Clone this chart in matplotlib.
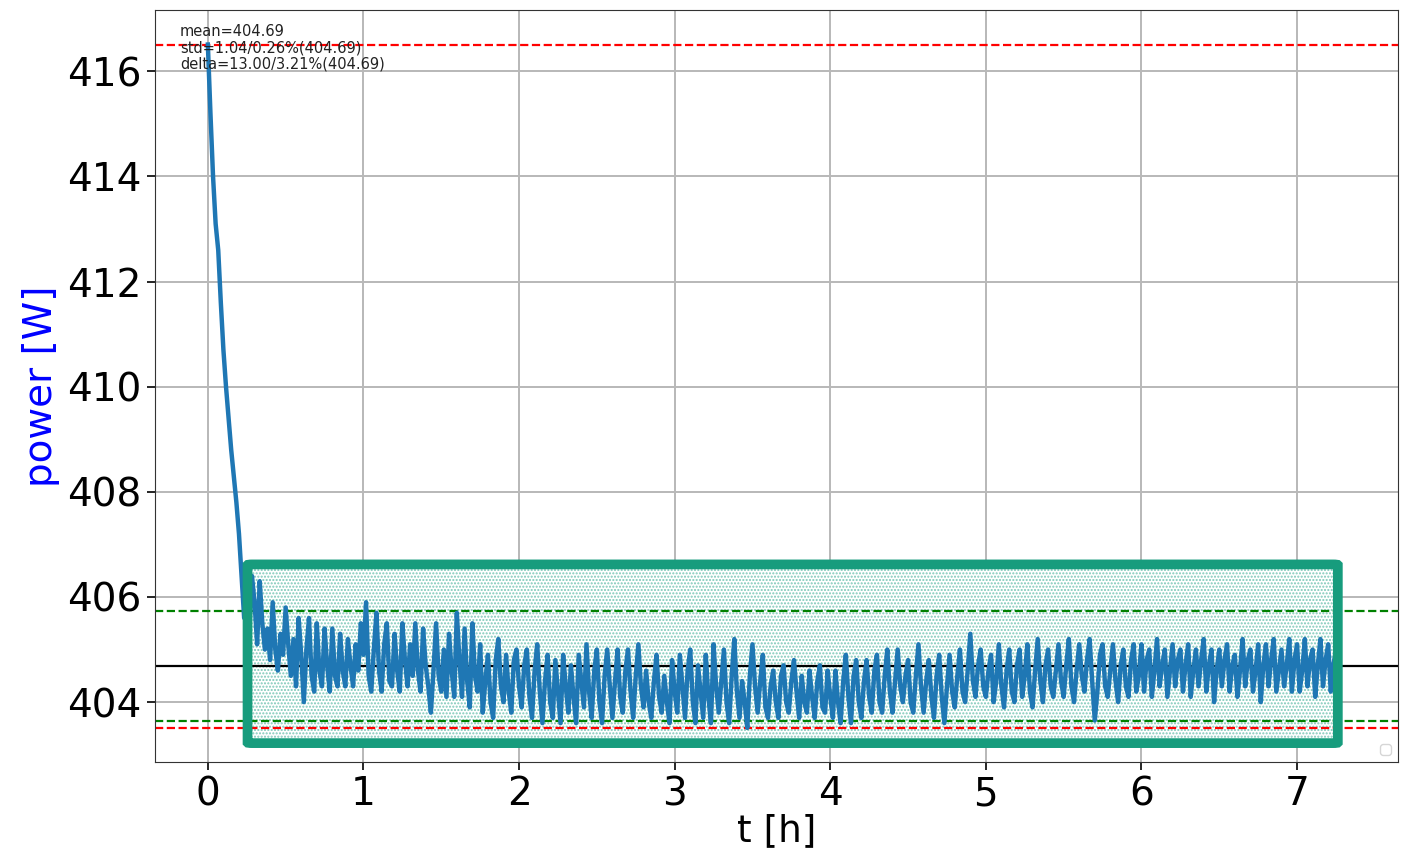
"""Power trace of a warm-up run with the stability statistics overlaid."""

import matplotlib

matplotlib.use("Agg")

import matplotlib.pyplot as plt
from matplotlib.patches import FancyBboxPatch
import numpy as np

# one sample per minute
SAMPLE_STEP_H = 1.0 / 60.0

power_w = [
    # hour 0: warm-up decay, then settling
    416.51, 415.2, 414.0, 413.1, 412.6, 411.6, 410.7, 410.0, 409.4, 408.8,
    408.3, 407.8, 407.2, 406.4, 405.6, 406.1, 405.4, 406.4, 405.9, 405.1,
    406.3, 405.5, 405.0, 405.4, 404.8, 405.9, 405.0, 404.6, 405.3, 404.9,
    405.8, 405.1, 404.5, 405.2, 404.3, 405.6, 404.9, 404.0, 405.0, 405.6,
    404.5, 404.2, 405.5, 404.6, 404.3, 405.4, 404.7, 404.2, 405.4, 404.5,
    404.3, 405.3, 404.6, 404.3, 405.2, 404.7, 404.3, 405.1, 404.6, 405.5,
    # hour 1
    404.9, 405.9, 404.5, 404.2, 405.0, 405.7, 404.6, 404.2, 405.1, 405.5,
    404.4, 404.3, 405.3, 404.6, 404.2, 405.5, 404.8, 404.3, 405.1, 404.5,
    405.5, 404.6, 404.2, 405.4, 404.7, 404.3, 403.8, 404.6, 405.5, 404.5,
    404.2, 405.0, 404.1, 405.3, 404.6, 404.1, 405.7, 404.8, 404.1, 405.4,
    404.4, 403.9, 405.5, 404.5, 404.2, 405.1, 403.8, 404.4, 404.9, 404.0,
    403.7, 404.8, 405.2, 404.3, 404.0, 404.9, 404.2, 403.8, 404.8, 405.0,
    # hour 2
    404.3, 403.9, 404.7, 405.0, 404.1, 403.7, 404.6, 405.1, 404.2, 403.6,
    404.4, 404.9, 404.0, 403.7, 404.8, 404.2, 403.6, 404.9, 404.3, 403.8,
    404.7, 404.1, 403.6, 404.9, 404.4, 403.9, 405.1, 404.2, 403.7, 404.6,
    405.0, 404.0, 403.6, 404.5, 405.0, 404.3, 403.7, 404.4, 405.0, 404.1,
    403.8, 404.6, 405.0, 404.2, 403.7, 404.5, 405.1, 404.3, 403.9, 404.6,
    404.0, 403.7, 404.4, 404.9, 404.1, 403.8, 404.5, 404.0, 403.6, 404.8,
    # hour 3
    404.2, 403.8, 404.9, 404.3, 403.7, 404.6, 405.0, 404.0, 403.6, 404.7,
    404.2, 403.7, 404.9, 404.1, 403.6, 405.1, 404.3, 403.8, 404.4, 405.0,
    404.0, 403.6, 404.5, 405.2, 404.2, 403.7, 404.4, 404.0, 403.51, 404.5,
    405.1, 404.3, 403.8, 404.4, 404.9, 403.9, 403.7, 404.3, 404.6, 404.0,
    403.7, 404.5, 404.7, 404.0, 403.8, 404.4, 404.8, 404.2, 403.7, 404.5,
    404.0, 403.8, 404.6, 404.1, 403.7, 404.4, 404.7, 403.9, 403.8, 404.6,
    # hour 4
    404.1, 403.7, 404.6, 404.0, 403.6, 404.4, 404.9, 404.1, 403.6, 404.5,
    404.8, 404.0, 403.7, 404.4, 404.8, 404.1, 403.8, 404.6, 404.9, 404.0,
    403.8, 404.5, 405.0, 404.2, 403.8, 404.4, 405.0, 404.3, 404.0, 404.5,
    404.8, 404.0, 403.8, 404.5, 405.1, 404.3, 403.8, 404.4, 404.8, 404.1,
    403.7, 404.5, 404.9, 404.1, 403.6, 404.3, 404.9, 404.2, 403.9, 404.5,
    405.0, 404.2, 404.0, 404.6, 405.3, 404.4, 404.1, 404.7, 405.0, 404.3,
    # hour 5
    404.1, 404.6, 404.9, 404.0, 404.4, 405.1, 404.3, 403.9, 404.6, 405.0,
    404.2, 404.0, 404.7, 405.0, 404.1, 404.5, 405.1, 404.2, 403.9, 404.6,
    405.2, 404.4, 404.0, 404.7, 405.0, 404.3, 404.1, 404.6, 405.1, 404.4,
    404.1, 404.7, 405.2, 404.3, 404.0, 404.6, 405.1, 404.5, 404.2, 404.8,
    405.2, 404.4, 403.65, 404.2, 404.9, 405.1, 404.3, 404.1, 404.6, 405.1,
    404.4, 404.0, 404.7, 405.0, 404.3, 404.1, 404.8, 405.1, 404.2, 404.5,
    # hour 6
    405.1, 404.2, 404.8, 405.0, 404.1, 404.6, 405.2, 404.3, 404.7, 405.0,
    404.1, 404.6, 405.1, 404.3, 404.8, 405.0, 404.2, 404.7, 405.1, 404.1,
    404.6, 405.0, 404.3, 404.8, 405.2, 404.2, 404.7, 405.0, 404.0, 404.6,
    405.0, 404.3, 404.8, 405.1, 404.2, 404.7, 404.9, 404.1, 404.6, 405.2,
    404.3, 404.8, 405.0, 404.2, 404.6, 405.1, 404.0, 404.7, 405.1, 404.3,
    404.8, 405.2, 404.2, 404.6, 405.0, 404.3, 404.7, 405.2, 404.2, 404.8,
    # hour 7
    405.1, 404.2, 404.6, 405.2, 404.3, 404.8, 405.0, 404.1, 404.7, 405.2,
    404.3, 404.8, 405.1, 404.2, 404.7, 405.0,
]

# statistics printed on the chart
stat_mean = 404.69
stat_std = 1.04
stat_std_pct = 0.26
stat_delta = 13.00
stat_delta_pct = 3.21

# highlighted steady-state window (t in h, power in W)
window_t = (0.255, 7.262)
window_p = (403.22, 406.62)

power = np.asarray(power_w)
t_h = np.arange(len(power)) * SAMPLE_STEP_H

fig = plt.figure(figsize=(14.01, 8.64), dpi=100)
ax = fig.add_axes([0.1106, 0.118, 0.8874, 0.870])

ax.grid(True, color="#b8b8b8", linewidth=1.4, zorder=0)
ax.set_axisbelow(True)

# dotted fill of the steady-state window, below the trace
fill = FancyBboxPatch(
    (window_t[0], window_p[0]),
    window_t[1] - window_t[0],
    window_p[1] - window_p[0],
    boxstyle="round,pad=0,rounding_size=0.03",
    facecolor="white",
    edgecolor="#7cc8b8",
    hatch=".....",
    linewidth=0,
    zorder=1,
    mutation_aspect=0.4,
)
ax.add_patch(fill)

ax.axhline(power.max(), color="red", linestyle="--", linewidth=1.6, zorder=2)
ax.axhline(power.min(), color="red", linestyle="--", linewidth=1.6, zorder=2)
ax.axhline(stat_mean + stat_std, color="green", linestyle="--", linewidth=1.6, zorder=2)
ax.axhline(stat_mean - stat_std, color="green", linestyle="--", linewidth=1.6, zorder=2)
ax.axhline(stat_mean, color="black", linewidth=1.6, zorder=2)

ax.plot(t_h, power, color="#1f77b4", linewidth=3.2, zorder=3)

border = FancyBboxPatch(
    (window_t[0], window_p[0]),
    window_t[1] - window_t[0],
    window_p[1] - window_p[0],
    boxstyle="round,pad=0,rounding_size=0.03",
    facecolor="none",
    edgecolor="#179c7d",
    linewidth=7,
    zorder=4,
    mutation_aspect=0.4,
)
ax.add_patch(border)

ax.text(
    0.02,
    0.982,
    f"mean={stat_mean:.2f}\n"
    f"std={stat_std:.2f}/{stat_std_pct:.2f}%({stat_mean:.2f})\n"
    f"delta={stat_delta:.2f}/{stat_delta_pct:.2f}%({stat_mean:.2f})",
    transform=ax.transAxes,
    va="top",
    ha="left",
    fontsize=10.5,
    color="#222222",
    linespacing=1.1,
    zorder=5,
)

ax.set_xlim(-0.34, 7.65)
ax.set_ylim(402.86, 417.16)
ax.set_xticks(range(0, 8))
ax.set_yticks(range(404, 417, 2))
ax.tick_params(labelsize=28, length=6, width=1.2)
for spine in ax.spines.values():
    spine.set_color("#333333")

ax.set_xlabel("t [h]", fontsize=27, labelpad=0)
ax.set_ylabel("power [W]", fontsize=28, color="blue", labelpad=5)
ax.legend(loc="lower right")

fig.savefig("out.png", dpi=100)
